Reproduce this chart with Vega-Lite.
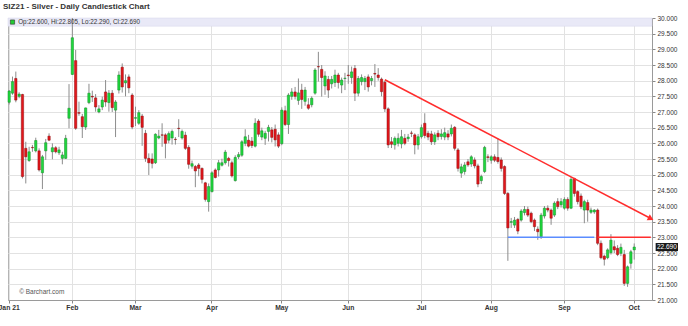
{
  "$schema": "https://vega.github.io/schema/vega-lite/v6.json",
  "autosize": {"type": "none"},
  "width": 644,
  "height": 282,
  "padding": {"left": 8, "top": 18, "right": 36, "bottom": 26},
  "background": "white",
  "title": {"text": "SIZ21 - Silver - Daily Candlestick Chart", "anchor": "start", "frame": "group", "fontSize": 8, "fontWeight": "bold", "color": "#333333", "font": "Liberation Sans", "dx": -5, "offset": 4},
  "config": {
    "view": {"stroke": "#b4b4b4", "strokeWidth": 1},
    "font": "Liberation Sans",
    "axis": {"title": null, "gridColor": "#e2e2e2", "gridWidth": 1, "domainColor": "#9a9a9a", "tickColor": "#888888", "tickSize": 3, "labelColor": "#333333"},
    "axisY": {"labelFontSize": 6.5, "labelPadding": 2, "labelFlush": false, "labelOverlap": false, "labelBound": false, "grid": true}
  },
  "datasets": {
    "candles": [
      {"d":"2021-01-04","o":27.31,"h":27.70,"l":27.24,"c":27.67},
      {"d":"2021-01-05","o":27.60,"h":28.13,"l":27.55,"c":27.97},
      {"d":"2021-01-06","o":28.07,"h":28.29,"l":27.31,"c":27.38},
      {"d":"2021-01-07","o":27.50,"h":27.63,"l":27.44,"c":27.57},
      {"d":"2021-01-08","o":27.56,"h":27.58,"l":24.88,"c":24.94},
      {"d":"2021-01-11","o":25.84,"h":26.05,"l":24.72,"c":25.57},
      {"d":"2021-01-12","o":25.45,"h":25.89,"l":25.41,"c":25.73},
      {"d":"2021-01-13","o":25.87,"h":25.95,"l":25.73,"c":25.86},
      {"d":"2021-01-14","o":25.76,"h":26.18,"l":25.71,"c":26.09},
      {"d":"2021-01-15","o":25.76,"h":25.84,"l":25.10,"c":25.15},
      {"d":"2021-01-19","o":25.06,"h":25.63,"l":24.54,"c":25.57},
      {"d":"2021-01-20","o":25.76,"h":26.14,"l":25.47,"c":26.02},
      {"d":"2021-01-21","o":26.23,"h":26.32,"l":26.07,"c":26.10},
      {"d":"2021-01-22","o":25.73,"h":26.00,"l":25.49,"c":25.86},
      {"d":"2021-01-25","o":25.86,"h":25.91,"l":25.68,"c":25.73},
      {"d":"2021-01-26","o":25.70,"h":25.89,"l":25.63,"c":25.79},
      {"d":"2021-01-27","o":25.52,"h":25.73,"l":25.33,"c":25.63},
      {"d":"2021-01-28","o":25.52,"h":26.27,"l":25.50,"c":26.16},
      {"d":"2021-01-29","o":26.80,"h":27.89,"l":26.48,"c":27.12},
      {"d":"2021-02-01","o":28.20,"h":30.40,"l":28.18,"c":29.37},
      {"d":"2021-02-02","o":28.64,"h":28.98,"l":26.43,"c":26.48},
      {"d":"2021-02-03","o":26.98,"h":27.33,"l":26.88,"c":26.96},
      {"d":"2021-02-04","o":26.85,"h":26.94,"l":26.17,"c":26.53},
      {"d":"2021-02-05","o":26.52,"h":27.14,"l":26.43,"c":27.13},
      {"d":"2021-02-08","o":27.30,"h":27.90,"l":27.25,"c":27.60},
      {"d":"2021-02-09","o":27.50,"h":27.68,"l":27.32,"c":27.48},
      {"d":"2021-02-10","o":27.45,"h":27.57,"l":27.01,"c":27.16},
      {"d":"2021-02-11","o":27.00,"h":27.22,"l":26.96,"c":27.10},
      {"d":"2021-02-12","o":27.16,"h":27.49,"l":27.06,"c":27.38},
      {"d":"2021-02-16","o":27.64,"h":28.02,"l":27.17,"c":27.32},
      {"d":"2021-02-17","o":27.30,"h":27.70,"l":27.01,"c":27.60},
      {"d":"2021-02-18","o":27.60,"h":27.70,"l":27.00,"c":27.14},
      {"d":"2021-02-19","o":27.06,"h":27.38,"l":26.20,"c":27.32},
      {"d":"2021-02-22","o":27.70,"h":28.30,"l":27.59,"c":28.18},
      {"d":"2021-02-23","o":28.43,"h":28.55,"l":27.62,"c":27.80},
      {"d":"2021-02-24","o":27.93,"h":28.20,"l":27.50,"c":28.00},
      {"d":"2021-02-25","o":28.12,"h":28.20,"l":27.60,"c":27.77},
      {"d":"2021-02-26","o":27.54,"h":27.60,"l":26.45,"c":26.52},
      {"d":"2021-03-01","o":26.80,"h":27.17,"l":26.55,"c":26.82},
      {"d":"2021-03-02","o":26.64,"h":27.06,"l":26.59,"c":26.98},
      {"d":"2021-03-03","o":26.87,"h":26.94,"l":25.92,"c":26.51},
      {"d":"2021-03-04","o":26.32,"h":26.43,"l":25.41,"c":25.52},
      {"d":"2021-03-05","o":25.52,"h":25.68,"l":24.99,"c":25.38},
      {"d":"2021-03-08","o":25.50,"h":25.68,"l":25.20,"c":25.36},
      {"d":"2021-03-09","o":25.38,"h":26.32,"l":25.34,"c":26.29},
      {"d":"2021-03-10","o":26.17,"h":26.43,"l":26.13,"c":26.23},
      {"d":"2021-03-11","o":26.27,"h":26.64,"l":25.89,"c":26.26},
      {"d":"2021-03-12","o":26.27,"h":26.32,"l":25.52,"c":26.00},
      {"d":"2021-03-15","o":26.10,"h":26.38,"l":26.00,"c":26.31},
      {"d":"2021-03-16","o":26.17,"h":26.44,"l":25.96,"c":26.38},
      {"d":"2021-03-17","o":26.13,"h":26.20,"l":25.96,"c":26.12},
      {"d":"2021-03-18","o":26.48,"h":26.77,"l":26.20,"c":26.47},
      {"d":"2021-03-19","o":26.17,"h":26.44,"l":26.12,"c":26.38},
      {"d":"2021-03-22","o":26.26,"h":26.37,"l":25.79,"c":25.84},
      {"d":"2021-03-23","o":25.87,"h":25.94,"l":25.19,"c":25.33},
      {"d":"2021-03-24","o":25.27,"h":25.45,"l":25.19,"c":25.35},
      {"d":"2021-03-25","o":25.26,"h":25.31,"l":24.60,"c":25.12},
      {"d":"2021-03-26","o":25.31,"h":25.37,"l":24.95,"c":25.20},
      {"d":"2021-03-29","o":25.20,"h":25.23,"l":24.72,"c":24.85},
      {"d":"2021-03-30","o":24.74,"h":24.77,"l":24.14,"c":24.21},
      {"d":"2021-03-31","o":24.14,"h":24.72,"l":23.82,"c":24.62},
      {"d":"2021-04-01","o":24.46,"h":25.11,"l":24.43,"c":25.06},
      {"d":"2021-04-05","o":25.15,"h":25.20,"l":24.88,"c":24.91},
      {"d":"2021-04-06","o":25.15,"h":25.47,"l":24.94,"c":25.38},
      {"d":"2021-04-07","o":25.30,"h":25.51,"l":25.26,"c":25.38},
      {"d":"2021-04-08","o":25.38,"h":25.79,"l":25.32,"c":25.72},
      {"d":"2021-04-09","o":25.52,"h":25.57,"l":25.26,"c":25.45},
      {"d":"2021-04-12","o":25.38,"h":25.45,"l":24.91,"c":24.96},
      {"d":"2021-04-13","o":24.81,"h":25.62,"l":24.78,"c":25.55},
      {"d":"2021-04-14","o":25.57,"h":25.72,"l":25.50,"c":25.64},
      {"d":"2021-04-15","o":25.62,"h":26.10,"l":25.57,"c":26.05},
      {"d":"2021-04-16","o":26.00,"h":26.45,"l":25.91,"c":26.21},
      {"d":"2021-04-19","o":26.10,"h":26.27,"l":25.87,"c":25.91},
      {"d":"2021-04-20","o":26.07,"h":26.20,"l":25.85,"c":25.93},
      {"d":"2021-04-21","o":25.91,"h":26.80,"l":25.87,"c":26.64},
      {"d":"2021-04-22","o":26.71,"h":26.77,"l":26.21,"c":26.29},
      {"d":"2021-04-23","o":26.20,"h":26.50,"l":26.10,"c":26.40},
      {"d":"2021-04-26","o":26.16,"h":26.40,"l":25.95,"c":26.32},
      {"d":"2021-04-27","o":26.38,"h":26.59,"l":26.06,"c":26.51},
      {"d":"2021-04-28","o":26.43,"h":26.52,"l":26.03,"c":26.19},
      {"d":"2021-04-29","o":26.45,"h":26.60,"l":25.90,"c":26.11},
      {"d":"2021-04-30","o":26.27,"h":26.35,"l":25.85,"c":25.91},
      {"d":"2021-05-03","o":25.99,"h":27.15,"l":25.94,"c":27.06},
      {"d":"2021-05-04","o":27.04,"h":27.20,"l":26.55,"c":26.60},
      {"d":"2021-05-05","o":26.60,"h":27.60,"l":26.30,"c":27.54},
      {"d":"2021-05-06","o":27.50,"h":27.76,"l":27.39,"c":27.64},
      {"d":"2021-05-07","o":27.64,"h":27.80,"l":27.40,"c":27.50},
      {"d":"2021-05-10","o":27.37,"h":28.07,"l":27.23,"c":27.61},
      {"d":"2021-05-11","o":27.70,"h":27.90,"l":27.10,"c":27.40},
      {"d":"2021-05-12","o":27.34,"h":27.80,"l":27.20,"c":27.70},
      {"d":"2021-05-13","o":27.23,"h":27.44,"l":27.07,"c":27.12},
      {"d":"2021-05-14","o":27.23,"h":27.50,"l":27.15,"c":27.44},
      {"d":"2021-05-17","o":27.60,"h":28.40,"l":27.55,"c":28.34},
      {"d":"2021-05-18","o":28.45,"h":28.92,"l":27.97,"c":28.44},
      {"d":"2021-05-19","o":28.36,"h":28.50,"l":27.49,"c":28.10},
      {"d":"2021-05-20","o":27.83,"h":28.30,"l":27.55,"c":28.15},
      {"d":"2021-05-21","o":28.04,"h":28.15,"l":27.45,"c":27.70},
      {"d":"2021-05-24","o":27.90,"h":28.15,"l":27.75,"c":28.04},
      {"d":"2021-05-25","o":27.94,"h":28.35,"l":27.80,"c":28.18},
      {"d":"2021-05-26","o":28.18,"h":28.25,"l":27.75,"c":27.94},
      {"d":"2021-05-27","o":27.86,"h":28.10,"l":27.60,"c":28.02},
      {"d":"2021-05-28","o":28.07,"h":28.25,"l":27.70,"c":28.08},
      {"d":"2021-06-01","o":28.18,"h":28.50,"l":27.90,"c":28.16},
      {"d":"2021-06-02","o":28.10,"h":28.45,"l":27.90,"c":28.28},
      {"d":"2021-06-03","o":28.39,"h":28.50,"l":27.35,"c":27.60},
      {"d":"2021-06-04","o":27.60,"h":28.15,"l":27.50,"c":28.07},
      {"d":"2021-06-07","o":27.97,"h":28.20,"l":27.85,"c":28.10},
      {"d":"2021-06-08","o":27.97,"h":28.15,"l":27.70,"c":28.07},
      {"d":"2021-06-09","o":28.12,"h":28.20,"l":27.65,"c":27.80},
      {"d":"2021-06-10","o":28.00,"h":28.15,"l":27.85,"c":28.07},
      {"d":"2021-06-11","o":28.23,"h":28.53,"l":27.80,"c":28.21},
      {"d":"2021-06-14","o":28.18,"h":28.40,"l":28.00,"c":28.10},
      {"d":"2021-06-15","o":28.05,"h":28.10,"l":27.50,"c":27.65},
      {"d":"2021-06-16","o":27.95,"h":28.00,"l":27.00,"c":27.10},
      {"d":"2021-06-17","o":27.10,"h":27.15,"l":25.85,"c":25.95},
      {"d":"2021-06-18","o":26.05,"h":26.20,"l":25.85,"c":25.97},
      {"d":"2021-06-21","o":25.95,"h":26.22,"l":25.80,"c":26.16},
      {"d":"2021-06-22","o":26.00,"h":26.32,"l":25.90,"c":26.16},
      {"d":"2021-06-23","o":25.98,"h":26.43,"l":25.84,"c":26.21},
      {"d":"2021-06-24","o":26.16,"h":26.30,"l":25.94,"c":26.00},
      {"d":"2021-06-25","o":26.15,"h":26.30,"l":26.05,"c":26.20},
      {"d":"2021-06-28","o":26.33,"h":26.40,"l":26.20,"c":26.32},
      {"d":"2021-06-29","o":26.27,"h":26.32,"l":25.65,"c":25.95},
      {"d":"2021-06-30","o":25.95,"h":26.30,"l":25.80,"c":26.21},
      {"d":"2021-07-01","o":26.21,"h":26.60,"l":26.15,"c":26.50},
      {"d":"2021-07-02","o":26.64,"h":26.96,"l":26.16,"c":26.25},
      {"d":"2021-07-06","o":26.32,"h":26.40,"l":26.10,"c":26.20},
      {"d":"2021-07-07","o":26.30,"h":26.40,"l":25.95,"c":26.05},
      {"d":"2021-07-08","o":26.05,"h":26.35,"l":25.95,"c":26.27},
      {"d":"2021-07-09","o":26.32,"h":26.42,"l":26.10,"c":26.21},
      {"d":"2021-07-12","o":26.22,"h":26.45,"l":26.12,"c":26.30},
      {"d":"2021-07-13","o":26.20,"h":26.50,"l":26.10,"c":26.34},
      {"d":"2021-07-14","o":26.30,"h":26.42,"l":26.10,"c":26.20},
      {"d":"2021-07-15","o":26.30,"h":26.60,"l":26.22,"c":26.48},
      {"d":"2021-07-16","o":26.51,"h":26.55,"l":25.77,"c":25.84},
      {"d":"2021-07-19","o":25.79,"h":25.85,"l":25.10,"c":25.20},
      {"d":"2021-07-20","o":25.05,"h":25.35,"l":24.90,"c":25.25},
      {"d":"2021-07-21","o":25.10,"h":25.40,"l":25.00,"c":25.31},
      {"d":"2021-07-22","o":25.41,"h":25.50,"l":25.25,"c":25.31},
      {"d":"2021-07-23","o":25.34,"h":25.62,"l":25.25,"c":25.57},
      {"d":"2021-07-26","o":25.47,"h":25.55,"l":25.20,"c":25.28},
      {"d":"2021-07-27","o":25.28,"h":25.35,"l":24.60,"c":24.70},
      {"d":"2021-07-28","o":24.81,"h":25.00,"l":24.70,"c":24.94},
      {"d":"2021-07-29","o":25.10,"h":25.92,"l":25.05,"c":25.87},
      {"d":"2021-07-30","o":25.57,"h":25.65,"l":25.40,"c":25.55},
      {"d":"2021-08-02","o":25.46,"h":25.62,"l":25.35,"c":25.57},
      {"d":"2021-08-03","o":25.57,"h":25.65,"l":25.40,"c":25.46},
      {"d":"2021-08-04","o":25.55,"h":26.15,"l":25.35,"c":25.42},
      {"d":"2021-08-05","o":25.47,"h":25.55,"l":25.10,"c":25.20},
      {"d":"2021-08-06","o":25.26,"h":25.30,"l":24.35,"c":24.40},
      {"d":"2021-08-09","o":24.40,"h":24.45,"l":22.25,"c":23.30},
      {"d":"2021-08-10","o":23.48,"h":23.62,"l":23.30,"c":23.50},
      {"d":"2021-08-11","o":23.39,"h":23.65,"l":23.30,"c":23.55},
      {"d":"2021-08-12","o":23.57,"h":23.62,"l":23.10,"c":23.20},
      {"d":"2021-08-13","o":23.55,"h":23.90,"l":23.50,"c":23.84},
      {"d":"2021-08-16","o":23.79,"h":24.00,"l":23.70,"c":23.89},
      {"d":"2021-08-17","o":23.89,"h":23.98,"l":23.65,"c":23.71},
      {"d":"2021-08-18","o":23.77,"h":23.82,"l":23.45,"c":23.50},
      {"d":"2021-08-19","o":23.55,"h":23.60,"l":23.20,"c":23.34},
      {"d":"2021-08-20","o":23.26,"h":23.35,"l":22.92,"c":23.18},
      {"d":"2021-08-23","o":23.02,"h":23.78,"l":22.95,"c":23.71},
      {"d":"2021-08-24","o":23.68,"h":24.00,"l":23.60,"c":23.93},
      {"d":"2021-08-25","o":23.93,"h":24.02,"l":23.80,"c":23.87},
      {"d":"2021-08-26","o":23.87,"h":23.92,"l":23.40,"c":23.61},
      {"d":"2021-08-27","o":23.71,"h":24.15,"l":23.65,"c":24.09},
      {"d":"2021-08-30","o":24.14,"h":24.25,"l":23.90,"c":23.98},
      {"d":"2021-08-31","o":24.04,"h":24.25,"l":23.95,"c":24.14},
      {"d":"2021-09-01","o":23.93,"h":24.28,"l":23.88,"c":24.21},
      {"d":"2021-09-02","o":24.21,"h":24.28,"l":23.85,"c":23.93},
      {"d":"2021-09-03","o":23.93,"h":24.92,"l":23.90,"c":24.85},
      {"d":"2021-09-07","o":24.88,"h":24.90,"l":24.30,"c":24.40},
      {"d":"2021-09-08","o":24.46,"h":24.50,"l":24.05,"c":24.14},
      {"d":"2021-09-09","o":24.32,"h":24.40,"l":23.90,"c":23.98},
      {"d":"2021-09-10","o":23.87,"h":24.20,"l":23.45,"c":24.14},
      {"d":"2021-09-13","o":24.11,"h":24.20,"l":23.50,"c":23.87},
      {"d":"2021-09-14","o":23.80,"h":23.95,"l":23.75,"c":23.87},
      {"d":"2021-09-15","o":23.81,"h":23.90,"l":23.75,"c":23.87},
      {"d":"2021-09-16","o":23.87,"h":23.92,"l":22.75,"c":22.81},
      {"d":"2021-09-17","o":22.81,"h":22.90,"l":22.30,"c":22.35},
      {"d":"2021-09-20","o":22.40,"h":22.45,"l":22.10,"c":22.30},
      {"d":"2021-09-21","o":22.35,"h":22.65,"l":22.30,"c":22.60},
      {"d":"2021-09-22","o":22.51,"h":23.10,"l":22.45,"c":22.91},
      {"d":"2021-09-23","o":22.70,"h":22.90,"l":22.50,"c":22.60},
      {"d":"2021-09-24","o":22.65,"h":22.75,"l":22.40,"c":22.45},
      {"d":"2021-09-27","o":22.49,"h":22.80,"l":22.40,"c":22.68},
      {"d":"2021-09-28","o":22.45,"h":22.60,"l":21.45,"c":21.53},
      {"d":"2021-09-29","o":21.53,"h":22.10,"l":21.42,"c":22.06},
      {"d":"2021-09-30","o":22.17,"h":22.60,"l":22.00,"c":22.54},
      {"d":"2021-10-01","o":22.60,"h":22.805,"l":22.29,"c":22.69}
    ],
    "lines": [
      {"k":"trend","d":"2021-06-16","v":28.03},
      {"k":"trend","d":"2021-10-08","v":23.6},
      {"k":"support","d":"2021-08-09","v":23.0},
      {"k":"support","d":"2021-09-15","v":23.0},
      {"k":"resist","d":"2021-09-16","v":23.0},
      {"k":"resist","d":"2021-10-08","v":23.0}
    ]
  },
  "layer": [
    {
      "data": {"values": [{}]},
      "mark": {"type": "rect", "fill": "#e9e9f7", "stroke": "#d6d6ea", "strokeWidth": 0.5},
      "encoding": {
        "y": {"datum": 30, "type": "quantitative", "axis": {"orient": "right", "values": [21, 21.5, 22, 22.5, 23, 23.5, 24, 24.5, 25, 25.5, 26, 26.5, 27, 27.5, 28, 28.5, 29, 29.5, 30], "format": ".3f", "title": null}},
        "y2": {"datum": 29.74}
      }
    },
    {
      "data": {"name": "candles"},
      "mark": {"type": "rule", "color": "#8c8c8c", "strokeWidth": 1, "clip": true},
      "encoding": {
        "x": {
          "field": "d", "type": "ordinal",
          "scale": {"paddingInner": 0.3, "paddingOuter": 0, "domain": [
            "2021-01-04","2021-01-05","2021-01-06","2021-01-07","2021-01-08","2021-01-11","2021-01-12","2021-01-13","2021-01-14","2021-01-15","2021-01-19","2021-01-20","2021-01-21","2021-01-22","2021-01-25","2021-01-26","2021-01-27","2021-01-28","2021-01-29",
            "2021-02-01","2021-02-02","2021-02-03","2021-02-04","2021-02-05","2021-02-08","2021-02-09","2021-02-10","2021-02-11","2021-02-12","2021-02-16","2021-02-17","2021-02-18","2021-02-19","2021-02-22","2021-02-23","2021-02-24","2021-02-25","2021-02-26",
            "2021-03-01","2021-03-02","2021-03-03","2021-03-04","2021-03-05","2021-03-08","2021-03-09","2021-03-10","2021-03-11","2021-03-12","2021-03-15","2021-03-16","2021-03-17","2021-03-18","2021-03-19","2021-03-22","2021-03-23","2021-03-24","2021-03-25","2021-03-26","2021-03-29","2021-03-30","2021-03-31",
            "2021-04-01","2021-04-05","2021-04-06","2021-04-07","2021-04-08","2021-04-09","2021-04-12","2021-04-13","2021-04-14","2021-04-15","2021-04-16","2021-04-19","2021-04-20","2021-04-21","2021-04-22","2021-04-23","2021-04-26","2021-04-27","2021-04-28","2021-04-29","2021-04-30",
            "2021-05-03","2021-05-04","2021-05-05","2021-05-06","2021-05-07","2021-05-10","2021-05-11","2021-05-12","2021-05-13","2021-05-14","2021-05-17","2021-05-18","2021-05-19","2021-05-20","2021-05-21","2021-05-24","2021-05-25","2021-05-26","2021-05-27","2021-05-28",
            "2021-06-01","2021-06-02","2021-06-03","2021-06-04","2021-06-07","2021-06-08","2021-06-09","2021-06-10","2021-06-11","2021-06-14","2021-06-15","2021-06-16","2021-06-17","2021-06-18","2021-06-21","2021-06-22","2021-06-23","2021-06-24","2021-06-25","2021-06-28","2021-06-29","2021-06-30",
            "2021-07-01","2021-07-02","2021-07-06","2021-07-07","2021-07-08","2021-07-09","2021-07-12","2021-07-13","2021-07-14","2021-07-15","2021-07-16","2021-07-19","2021-07-20","2021-07-21","2021-07-22","2021-07-23","2021-07-26","2021-07-27","2021-07-28","2021-07-29","2021-07-30",
            "2021-08-02","2021-08-03","2021-08-04","2021-08-05","2021-08-06","2021-08-09","2021-08-10","2021-08-11","2021-08-12","2021-08-13","2021-08-16","2021-08-17","2021-08-18","2021-08-19","2021-08-20","2021-08-23","2021-08-24","2021-08-25","2021-08-26","2021-08-27","2021-08-30","2021-08-31",
            "2021-09-01","2021-09-02","2021-09-03","2021-09-07","2021-09-08","2021-09-09","2021-09-10","2021-09-13","2021-09-14","2021-09-15","2021-09-16","2021-09-17","2021-09-20","2021-09-21","2021-09-22","2021-09-23","2021-09-24","2021-09-27","2021-09-28","2021-09-29","2021-09-30",
            "2021-10-01","2021-10-04","2021-10-05","2021-10-06","2021-10-07","2021-10-08"
          ]},
          "axis": {
            "values": ["2021-01-04","2021-02-01","2021-03-01","2021-04-01","2021-05-03","2021-06-01","2021-07-01","2021-08-02","2021-09-01","2021-10-01"],
            "labelExpr": "datum.value == '2021-01-04' ? 'Jan 21' : utcFormat(toDate(datum.value), '%b')",
            "grid": true, "bandPosition": 0.5, "labelAngle": 0, "labelFontSize": 6.8, "labelFontWeight": "bold",
            "labelPadding": 1, "labelOverlap": false, "labelBound": false, "labelFlush": false, "title": null
          }
        },
        "y": {
          "field": "l", "type": "quantitative",
          "scale": {"domain": [21, 30], "nice": false, "zero": false},
          "axis": {"orient": "right", "values": [21, 21.5, 22, 22.5, 23, 23.5, 24, 24.5, 25, 25.5, 26, 26.5, 27, 27.5, 28, 28.5, 29, 29.5, 30], "format": ".3f", "title": null}
        },
        "y2": {"field": "h"}
      }
    },
    {
      "data": {"name": "candles"},
      "mark": {"type": "bar", "strokeWidth": 0.5},
      "encoding": {
        "x": {"field": "d", "type": "ordinal", "title": null},
        "y": {"field": "o", "type": "quantitative", "axis": {"orient": "right", "values": [21, 21.5, 22, 22.5, 23, 23.5, 24, 24.5, 25, 25.5, 26, 26.5, 27, 27.5, 28, 28.5, 29, 29.5, 30], "format": ".3f", "title": null}},
        "y2": {"field": "c"},
        "fill": {"condition": {"test": "datum.c >= datum.o", "value": "#1fd83d"}, "value": "#e3161b"},
        "stroke": {"condition": {"test": "datum.c >= datum.o", "value": "#138a26"}, "value": "#8f0c0f"}
      }
    },
    {
      "data": {"name": "lines"},
      "mark": {"type": "line", "strokeWidth": 1.5, "clip": false},
      "encoding": {
        "x": {"field": "d", "type": "ordinal", "title": null},
        "y": {"field": "v", "type": "quantitative", "axis": {"orient": "right", "values": [21, 21.5, 22, 22.5, 23, 23.5, 24, 24.5, 25, 25.5, 26, 26.5, 27, 27.5, 28, 28.5, 29, 29.5, 30], "format": ".3f", "title": null}},
        "detail": {"field": "k"},
        "color": {"field": "k", "type": "nominal", "scale": {"domain": ["trend", "support", "resist"], "range": ["#ff2d2d", "#5a8cff", "#ff2d2d"]}, "legend": null}
      }
    },
    {
      "data": {"name": "lines"},
      "transform": [{"filter": "datum.k == 'trend' && datum.d == '2021-10-08'"}],
      "mark": {"type": "point", "shape": "triangle-right", "angle": 27.6, "size": 45, "filled": true, "color": "#ff2d2d", "opacity": 1, "clip": false},
      "encoding": {
        "x": {"field": "d", "type": "ordinal", "title": null},
        "y": {"field": "v", "type": "quantitative", "axis": {"orient": "right", "values": [21, 21.5, 22, 22.5, 23, 23.5, 24, 24.5, 25, 25.5, 26, 26.5, 27, 27.5, 28, 28.5, 29, 29.5, 30], "format": ".3f", "title": null}}
      }
    },
    {
      "data": {"values": [{}]},
      "mark": {"type": "point", "shape": "square", "size": 18, "filled": true, "color": "#22cc33", "stroke": "#333333", "strokeWidth": 0.6, "opacity": 1},
      "encoding": {
        "x": {"datum": "2021-01-05", "type": "ordinal"},
        "y": {"datum": 29.87, "type": "quantitative", "axis": {"orient": "right", "values": [21, 21.5, 22, 22.5, 23, 23.5, 24, 24.5, 25, 25.5, 26, 26.5, 27, 27.5, 28, 28.5, 29, 29.5, 30], "format": ".3f", "title": null}}
      }
    },
    {
      "data": {"values": [{"t": "Op:22.600, Hi:22.805, Lo:22.290, Cl:22.690"}]},
      "mark": {"type": "text", "align": "left", "baseline": "middle", "fontSize": 6.3, "color": "#333333", "dx": -1},
      "encoding": {
        "x": {"datum": "2021-01-07", "type": "ordinal"},
        "y": {"datum": 29.87, "type": "quantitative", "axis": {"orient": "right", "values": [21, 21.5, 22, 22.5, 23, 23.5, 24, 24.5, 25, 25.5, 26, 26.5, 27, 27.5, 28, 28.5, 29, 29.5, 30], "format": ".3f", "title": null}},
        "text": {"field": "t"}
      }
    },
    {
      "data": {"values": [{"t": "© Barchart.com"}]},
      "mark": {"type": "text", "align": "left", "baseline": "middle", "fontSize": 6.5, "color": "#555555"},
      "encoding": {
        "x": {"datum": "2021-01-07", "type": "ordinal"},
        "y": {"datum": 21.24, "type": "quantitative", "axis": {"orient": "right", "values": [21, 21.5, 22, 22.5, 23, 23.5, 24, 24.5, 25, 25.5, 26, 26.5, 27, 27.5, 28, 28.5, 29, 29.5, 30], "format": ".3f", "title": null}},
        "text": {"field": "t"}
      }
    },
    {
      "data": {"values": [{"p": 22.69}]},
      "mark": {"type": "point", "shape": "M -1 -0.36 L 1 -0.36 L 1 0.36 L -1 0.36 Z", "size": 500, "filled": true, "color": "#1a1a1a", "opacity": 1, "clip": false, "xOffset": 16},
      "encoding": {
        "x": {"datum": "2021-10-08", "type": "ordinal"},
        "y": {"field": "p", "type": "quantitative", "axis": {"orient": "right", "values": [21, 21.5, 22, 22.5, 23, 23.5, 24, 24.5, 25, 25.5, 26, 26.5, 27, 27.5, 28, 28.5, 29, 29.5, 30], "format": ".3f", "title": null}}
      }
    },
    {
      "data": {"values": [{"p": 22.69, "t": "22.690"}]},
      "mark": {"type": "text", "align": "center", "baseline": "middle", "fontSize": 6.5, "color": "#ffffff", "clip": false, "xOffset": 16},
      "encoding": {
        "x": {"datum": "2021-10-08", "type": "ordinal"},
        "y": {"field": "p", "type": "quantitative", "axis": {"orient": "right", "values": [21, 21.5, 22, 22.5, 23, 23.5, 24, 24.5, 25, 25.5, 26, 26.5, 27, 27.5, 28, 28.5, 29, 29.5, 30], "format": ".3f", "title": null}},
        "text": {"field": "t"}
      }
    }
  ]
}
